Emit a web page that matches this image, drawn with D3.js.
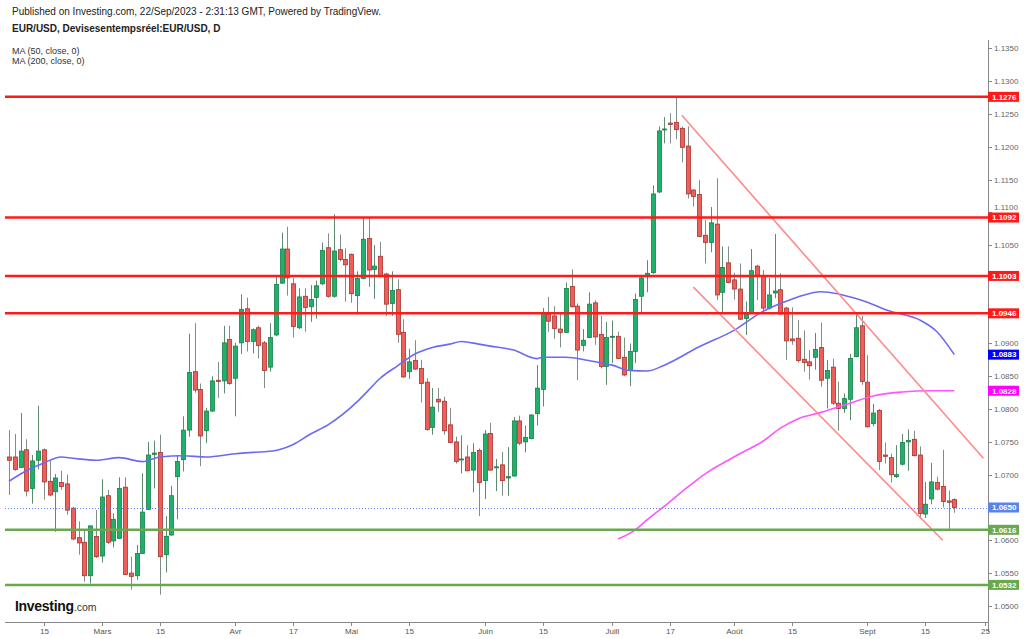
<!DOCTYPE html>
<html>
<head>
<meta charset="utf-8">
<script src="https://cdn.jsdelivr.net/npm/d3@7/dist/d3.min.js"></script>
<style>
  body { margin: 0; background: #fff; }
  svg { display: block; font-family: Arial, "Liberation Sans", sans-serif; }
</style>
</head>
<body>
<div id="chart"></div>
<script>
// EUR/USD journalier, 7 fév -> 22 sept 2023 (une bougie par jour ouvré)
const open = [
  1.0727, 1.0727, 1.0711, 1.0738, 1.0679, 1.0722, 1.0738, 1.0690, 1.0674, 1.0688,
  1.0686, 1.0649, 1.0604, 1.0597, 1.0546, 1.0606, 1.0576, 1.0668, 1.0599, 1.0603,
  1.0681, 1.0550, 1.0546, 1.0580, 1.0647, 1.0731, 1.0734, 1.0578, 1.0608, 1.0697,
  1.0723, 1.0768, 1.0857, 1.0830, 1.0767, 1.0797, 1.0844, 1.0843, 1.0906, 1.0847,
  1.0901, 1.0953, 1.0903, 1.0924, 1.0901, 1.0864, 1.0913, 1.0992, 1.1044, 1.0991,
  1.0924, 1.0972, 1.0956, 1.0970, 1.0991, 1.1046, 1.0972, 1.1043, 1.1028, 1.1036,
  1.0973, 1.0999, 1.1060, 1.1013, 1.1033, 1.1006, 1.0961, 1.0982, 1.0917, 1.0857,
  1.0874, 1.0862, 1.0841, 1.0772, 1.0815, 1.0812, 1.0776, 1.0750, 1.0723, 1.0727,
  1.0707, 1.0737, 1.0691, 1.0763, 1.0711, 1.0715, 1.0695, 1.0698, 1.0782, 1.0750,
  1.0755, 1.0793, 1.0830, 1.0945, 1.0942, 1.0922, 1.0917, 1.0987, 1.0957, 1.0897,
  1.0909, 1.0962, 1.0914, 1.0865, 1.0910, 1.0911, 1.0879, 1.0859, 1.0888, 1.0972,
  1.1002, 1.1008, 1.1131, 1.1226, 1.1236, 1.1237, 1.1228, 1.1201, 1.1134, 1.1127,
  1.1065, 1.1054, 1.1082, 1.0978, 1.1023, 1.0997, 1.0983, 1.0938, 1.0947, 1.1018,
  1.1003, 1.0954, 1.0977, 1.0982, 1.0954, 1.0907, 1.0908, 1.0876, 1.0872, 1.0879,
  1.0894, 1.0847, 1.0864, 1.0809, 1.0801, 1.0815, 1.0880, 1.0927, 1.0841, 1.0778,
  1.0798, 1.0730, 1.0726, 1.0697, 1.0716, 1.0750, 1.0754, 1.0730, 1.0640, 1.0663,
  1.0688, 1.0682, 1.0660, 1.0662
];
const high = [
  1.0768, 1.0762, 1.0794, 1.0754, 1.0730, 1.0805, 1.0740, 1.0722, 1.0701, 1.0706,
  1.0700, 1.0651, 1.0629, 1.0616, 1.0622, 1.0646, 1.0693, 1.0677, 1.0641, 1.0696,
  1.0696, 1.0575, 1.0593, 1.0702, 1.0750, 1.0752, 1.0761, 1.0637, 1.0683, 1.0730,
  1.0789, 1.0915, 1.0931, 1.0839, 1.0802, 1.0850, 1.0872, 1.0927, 1.0927, 1.0901,
  1.0975, 1.0970, 1.0923, 1.0927, 1.0904, 1.0931, 1.1002, 1.1069, 1.1078, 1.1000,
  1.0984, 1.0984, 1.0989, 1.0996, 1.1054, 1.1068, 1.1097, 1.1066, 1.1045, 1.1037,
  1.1010, 1.1092, 1.1092, 1.1050, 1.1055, 1.1008, 1.1010, 1.0998, 1.0937, 1.0892,
  1.0905, 1.0875, 1.0847, 1.0832, 1.0832, 1.0819, 1.0802, 1.0758, 1.0760, 1.0745,
  1.0748, 1.0740, 1.0768, 1.0779, 1.0724, 1.0735, 1.0742, 1.0788, 1.0790, 1.0775,
  1.0792, 1.0867, 1.0954, 1.0971, 1.0957, 1.0947, 1.0993, 1.1013, 1.0961, 1.0922,
  1.0978, 1.0966, 1.0942, 1.0933, 1.0935, 1.0918, 1.0909, 1.0900, 1.0976, 1.1003,
  1.1027, 1.1141, 1.1231, 1.1245, 1.1251, 1.1276, 1.1231, 1.1231, 1.1135, 1.1149,
  1.1088, 1.1108, 1.1152, 1.1048, 1.1048, 1.1008, 1.1022, 1.0964, 1.1044, 1.1020,
  1.1012, 1.1000, 1.1067, 1.1007, 1.0956, 1.0955, 1.0936, 1.0920, 1.0890, 1.0916,
  1.0932, 1.0875, 1.0877, 1.0842, 1.0824, 1.0884, 1.0945, 1.0942, 1.0882, 1.0808,
  1.0800, 1.0749, 1.0732, 1.0745, 1.0762, 1.0769, 1.0767, 1.0743, 1.0689, 1.0718,
  1.0697, 1.0738, 1.0676, 1.0664
];
const low = [
  1.0669, 1.0706, 1.0710, 1.0667, 1.0656, 1.0708, 1.0662, 1.0667, 1.0613, 1.0677,
  1.0639, 1.0600, 1.0578, 1.0537, 1.0534, 1.0573, 1.0566, 1.0594, 1.0589, 1.0602,
  1.0547, 1.0525, 1.0540, 1.0579, 1.0646, 1.0679, 1.0517, 1.0551, 1.0607, 1.0632,
  1.0705, 1.0758, 1.0825, 1.0713, 1.0748, 1.0796, 1.0817, 1.0824, 1.0837, 1.0789,
  1.0884, 1.0888, 1.0885, 1.0877, 1.0832, 1.0857, 1.0911, 1.0991, 1.0973, 1.0909,
  1.0922, 1.0918, 1.0933, 1.0938, 1.0989, 1.0970, 1.0970, 1.1025, 1.0964, 1.0962,
  1.0944, 1.0998, 1.0986, 1.0968, 1.1001, 1.0942, 1.0942, 1.0901, 1.0848, 1.0846,
  1.0860, 1.0810, 1.0767, 1.0761, 1.0796, 1.0761, 1.0748, 1.0717, 1.0702, 1.0705,
  1.0673, 1.0637, 1.0663, 1.0706, 1.0675, 1.0668, 1.0668, 1.0697, 1.0745, 1.0734,
  1.0754, 1.0775, 1.0804, 1.0918, 1.0907, 1.0894, 1.0916, 1.0955, 1.0844, 1.0888,
  1.0908, 1.0898, 1.0862, 1.0837, 1.0870, 1.0876, 1.0850, 1.0835, 1.0870, 1.0946,
  1.0978, 1.1006, 1.1129, 1.1205, 1.1205, 1.1211, 1.1176, 1.1121, 1.1109, 1.1062,
  1.1022, 1.1039, 1.0966, 1.0947, 1.0992, 1.0967, 1.0936, 1.0913, 1.0946, 1.0966,
  1.0945, 1.0952, 1.0969, 1.0944, 1.0875, 1.0898, 1.0871, 1.0857, 1.0845, 1.0860,
  1.0834, 1.0801, 1.0806, 1.0767, 1.0794, 1.0783, 1.0879, 1.0837, 1.0772, 1.0774,
  1.0707, 1.0717, 1.0688, 1.0695, 1.0714, 1.0706, 1.0728, 1.0633, 1.0634, 1.0655,
  1.0676, 1.0650, 1.0617, 1.0642
];
const close = [
  1.0722, 1.0708, 1.0736, 1.0675, 1.0721, 1.0736, 1.0689, 1.0669, 1.0695, 1.0682,
  1.0646, 1.0602, 1.0596, 1.0546, 1.0622, 1.0575, 1.0666, 1.0597, 1.0632, 1.0679,
  1.0548, 1.0545, 1.0580, 1.0643, 1.0730, 1.0733, 1.0575, 1.0606, 1.0668, 1.0720,
  1.0768, 1.0856, 1.0829, 1.0759, 1.0797, 1.0843, 1.0842, 1.0901, 1.0839, 1.0896,
  1.0952, 1.0903, 1.0921, 1.0897, 1.0859, 1.0909, 1.0990, 1.1044, 1.1000, 1.0926,
  1.0971, 1.0955, 1.0967, 1.0988, 1.1042, 1.0972, 1.1041, 1.1028, 1.1020, 1.0976,
  1.0999, 1.1059, 1.1012, 1.1018, 1.1003, 1.0960, 1.0981, 1.0914, 1.0849, 1.0872,
  1.0861, 1.0839, 1.0769, 1.0803, 1.0811, 1.0767, 1.0749, 1.0720, 1.0724, 1.0706,
  1.0734, 1.0688, 1.0762, 1.0707, 1.0712, 1.0691, 1.0697, 1.0782, 1.0748, 1.0757,
  1.0791, 1.0832, 1.0946, 1.0934, 1.0923, 1.0917, 1.0984, 1.0956, 1.0890, 1.0905,
  1.0960, 1.0910, 1.0865, 1.0909, 1.0911, 1.0877, 1.0852, 1.0888, 1.0967, 1.1000,
  1.1007, 1.1128, 1.1224, 1.1227, 1.1234, 1.1226, 1.1199, 1.1128, 1.1124, 1.1063,
  1.1054, 1.1084, 1.0974, 1.1016, 1.0993, 1.0983, 1.0937, 1.0945, 1.1011, 1.1004,
  1.0954, 1.0974, 1.0980, 1.0945, 1.0904, 1.0904, 1.0874, 1.0871, 1.0866, 1.0891,
  1.0844, 1.0859, 1.0809, 1.0801, 1.0816, 1.0877, 1.0924, 1.0842, 1.0773, 1.0794,
  1.0720, 1.0728, 1.0700, 1.0700, 1.0749, 1.0752, 1.0729, 1.0641, 1.0655, 1.0689,
  1.0678, 1.0659, 1.0658, 1.0650
];

// Moyennes mobiles (index de bougie -> valeur)
const ma50Idx = [0, 3, 6, 9, 11, 15, 19, 23, 26, 30, 34, 39, 42, 46, 49, 52, 55, 60, 62, 64, 67, 70, 73, 76, 78, 81, 83, 87, 91, 92, 96, 100, 104, 107, 110, 113, 119, 125, 130, 133, 136, 140, 147, 152, 157, 160, 163];
const ma50Val = [1.0690, 1.0706, 1.0718, 1.0727, 1.0725, 1.0722, 1.0726, 1.0720, 1.0727, 1.0729, 1.0727, 1.0732, 1.0734, 1.0737, 1.0746, 1.0762, 1.0776, 1.0811, 1.0829, 1.0847, 1.0866, 1.0884, 1.0894, 1.0899, 1.0903, 1.0899, 1.0896, 1.0890, 1.0877, 1.0879, 1.0879, 1.0874, 1.0867, 1.0859, 1.0858, 1.0867, 1.0895, 1.0920, 1.0949, 1.0961, 1.0971, 1.0979, 1.0966, 1.0949, 1.0936, 1.0918, 1.0883];
const ma200Idx = [105, 108, 110, 113, 117, 121, 124, 126, 130, 133, 136, 140, 145, 149, 154, 159, 163];
const ma200Val = [1.0602, 1.0616, 1.0631, 1.0652, 1.0681, 1.0707, 1.0722, 1.0732, 1.0751, 1.0771, 1.0785, 1.0795, 1.0809, 1.0820, 1.0826, 1.0828, 1.0828];

// Niveaux horizontaux et canal baissier
const resistances = [1.1276, 1.1092, 1.1003, 1.0946];
const supports = [1.0616, 1.0532];
const channelTop = [[116, 1.1248], [168, 1.0725]];
const channelBottom = [[118, 1.0986], [161, 1.0600]];

const yTicks = [1.0500, 1.0550, 1.0600, 1.0650, 1.0700, 1.0750, 1.0800, 1.0850, 1.0900, 1.0950, 1.1000, 1.1050, 1.1100, 1.1150, 1.1200, 1.1250, 1.1300, 1.1350];
const xTickIdx = [6, 16, 26, 39, 49, 59, 69, 82, 92, 104, 114, 125, 135, 148, 158, 168.3];
const xTickLabels = ["15", "Mars", "15", "Avr", "17", "Mai", "15", "Juin", "15", "Juill", "17", "Août", "15", "Sept", "15", "25"];

const WIDTH = 1024, HEIGHT = 639;
const AXIS_X = 988;
const PLOT_TOP = 40, PLOT_BOTTOM = 622;

const svg = d3.select("#chart").append("svg")
  .attr("width", WIDTH).attr("height", HEIGHT);

const x = d3.scaleLinear().domain([-1.55, 168.8]).range([0, AXIS_X]);
const y = d3.scaleLinear().domain([1.05, 1.135]).range([605.9, 48.3]);
const fmt = d3.format(".4f");

svg.append("clipPath").attr("id", "plot")
  .append("rect").attr("x", 0).attr("y", PLOT_TOP)
  .attr("width", AXIS_X).attr("height", PLOT_BOTTOM - PLOT_TOP);

// En-tête
const head = svg.append("g").attr("fill", "#222");
head.append("text").attr("x", 12).attr("y", 15).attr("font-size", 10)
  .text("Published on Investing.com, 22/Sep/2023 - 2:31:13 GMT, Powered by TradingView.");
head.append("text").attr("x", 12).attr("y", 32).attr("font-size", 10).attr("font-weight", "bold")
  .text("EUR/USD, Devisesentempsréel:EUR/USD, D");
head.append("text").attr("x", 12).attr("y", 54).attr("font-size", 9).attr("fill", "#333")
  .text("MA (50, close, 0)");
head.append("text").attr("x", 12).attr("y", 64).attr("font-size", 9).attr("fill", "#333")
  .text("MA (200, close, 0)");

const plot = svg.append("g").attr("clip-path", "url(#plot)");

// Bougies
const candles = plot.append("g").selectAll("g.candle")
  .data(d3.range(open.length))
  .join(enter => {
    const g = enter.append("g").attr("class", "candle");
    g.append("line")
      .attr("x1", i => Math.round(x(i)) + 0.5).attr("x2", i => Math.round(x(i)) + 0.5)
      .attr("y1", i => y(high[i])).attr("y2", i => y(low[i]))
      .attr("stroke", i => close[i] >= open[i] ? "#5f8a72" : "#7f8f88")
      .attr("stroke-width", 1);
    g.append("rect")
      .attr("x", i => Math.round(x(i)) - 1.5)
      .attr("width", 4)
      .attr("y", i => y(Math.max(open[i], close[i])))
      .attr("height", i => Math.max(1, Math.abs(y(open[i]) - y(close[i]))))
      .attr("fill", i => close[i] >= open[i] ? "#1fb06a" : "#ef5f5a")
      .attr("stroke", i => close[i] >= open[i] ? "#17804a" : "#a8322e")
      .attr("stroke-width", 0.8);
    return g;
  });

// Moyennes mobiles
const maLine = d3.line().x(d => x(d[0])).y(d => y(d[1])).curve(d3.curveMonotoneX);
plot.append("path")
  .datum(ma50Idx.map((d, k) => [d, ma50Val[k]]))
  .attr("d", maLine).attr("fill", "none")
  .attr("stroke", "#6a6af5").attr("stroke-width", 1.6);
plot.append("path")
  .datum(ma200Idx.map((d, k) => [d, ma200Val[k]]))
  .attr("d", maLine).attr("fill", "none")
  .attr("stroke", "#ff55ff").attr("stroke-width", 1.6);

// Canal
plot.selectAll("line.channel")
  .data([channelTop, channelBottom])
  .join("line").attr("class", "channel")
  .attr("x1", d => x(d[0][0])).attr("y1", d => y(d[0][1]))
  .attr("x2", d => x(d[1][0])).attr("y2", d => y(d[1][1]))
  .attr("stroke", "#ff8a8a").attr("stroke-width", 1.6);

// Dernier cours
const last = close[close.length - 1];
plot.append("line")
  .attr("x1", 5).attr("x2", AXIS_X)
  .attr("y1", Math.round(y(last)) + 0.5).attr("y2", Math.round(y(last)) + 0.5)
  .attr("stroke", "#5b7fe0").attr("stroke-width", 1).attr("stroke-dasharray", "1,2");

// Supports / résistances
plot.selectAll("line.res").data(resistances).join("line").attr("class", "res")
  .attr("x1", 5).attr("x2", AXIS_X)
  .attr("y1", d => y(d)).attr("y2", d => y(d))
  .attr("stroke", "#ff1a1a").attr("stroke-width", 2.5);
plot.selectAll("line.sup").data(supports).join("line").attr("class", "sup")
  .attr("x1", 5).attr("x2", AXIS_X)
  .attr("y1", d => y(d)).attr("y2", d => y(d))
  .attr("stroke", "#6aa84f").attr("stroke-width", 2.5);

// Étiquettes de niveaux sur l'axe
const tags = [
  ...resistances.map(v => ({ v, bg: "#ff1a1a" })),
  ...supports.map(v => ({ v, bg: "#6aa84f" })),
  { v: ma50Val[ma50Val.length - 1], bg: "#0000ff" },
  { v: ma200Val[ma200Val.length - 1], bg: "#ff00ff" },
  { v: last, bg: "#5b84e8" }
];

// Axe des prix : les graduations cachées par une étiquette sont omises,
// celles qui la touchent à peine sont décalées
svg.append("line")
  .attr("x1", AXIS_X + 0.5).attr("x2", AXIS_X + 0.5)
  .attr("y1", PLOT_TOP).attr("y2", 632)
  .attr("stroke", "#888").attr("stroke-width", 1);
const nearestTag = t => d3.min(tags, g => Math.abs(y(g.v) - y(t)));
const yAxis = svg.append("g").selectAll("g.ytick").data(yTicks).join("g")
  .attr("transform", d => `translate(${AXIS_X},${Math.round(y(d)) + 0.5})`);
yAxis.append("line").attr("x1", 0).attr("x2", 4).attr("stroke", "#888");
yAxis.filter(d => nearestTag(d) >= 4).append("text")
  .attr("x", 6)
  .attr("dy", d => {
    const g = tags.find(g => Math.abs(y(g.v) - y(d)) < 9);
    if (!g) return "0.35em";
    return y(d) < y(g.v) ? "-0.35em" : "1.05em";
  })
  .attr("font-size", 8).attr("fill", "#666").text(d => fmt(d));

const tag = svg.append("g").selectAll("g.tag").data(tags).join("g")
  .attr("transform", d => `translate(${AXIS_X},${y(d.v)})`);
tag.append("rect").attr("x", 0).attr("y", -5).attr("width", 31).attr("height", 10)
  .attr("fill", d => d.bg);
tag.append("text").attr("x", 4).attr("dy", "0.35em")
  .attr("font-size", 8).attr("font-weight", "bold").attr("fill", "#fff")
  .text(d => fmt(d.v));

// Axe du temps
svg.append("line")
  .attr("x1", 5).attr("x2", AXIS_X)
  .attr("y1", PLOT_BOTTOM + 0.5).attr("y2", PLOT_BOTTOM + 0.5)
  .attr("stroke", "#888");
const xAxis = svg.append("g").selectAll("g.xtick").data(xTickIdx).join("g")
  .attr("transform", d => `translate(${Math.round(x(d)) + 0.5},${PLOT_BOTTOM})`);
xAxis.append("line").attr("y1", 0).attr("y2", 4).attr("stroke", "#888");
xAxis.append("text").attr("y", 12).attr("text-anchor", "middle")
  .attr("font-size", 8).attr("fill", "#555")
  .text((d, k) => xTickLabels[k]);

// Logo
const logo = svg.append("text").attr("x", 15).attr("y", 611);
logo.append("tspan").attr("font-size", 14).attr("font-weight", "bold")
  .attr("letter-spacing", -0.3).attr("fill", "#111").text("Investing");
logo.append("tspan").attr("font-size", 10.5).attr("fill", "#333").text(".com");
</script>
</body>
</html>
